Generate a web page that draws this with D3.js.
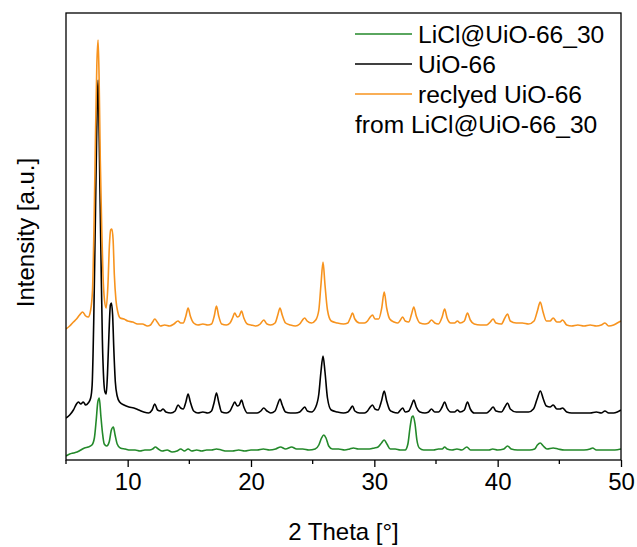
<!DOCTYPE html>
<html>
<head>
<meta charset="utf-8">
<script src="https://cdn.jsdelivr.net/npm/d3@7"></script>
<style>
  html, body { margin: 0; padding: 0; background: #fff; }
  svg { display: block; }
  text { font-family: "Liberation Sans", Arial, sans-serif; fill: #000; }
</style>
</head>
<body>
<svg id="chart" width="637" height="547"></svg>
<script>
// XRD patterns, stacked (offsets already in the a.u. values)
const seriesNames = ["LiCl@UiO-66_30", "UiO-66", "reclyed UiO-66"];
const legendExtra = "from LiCl@UiO-66_30";
const xTicks = [10, 20, 30, 40, 50];
const xMinorTicks = [5, 15, 25, 35, 45];

const licl = [
  [5.0,4],[5.3,6],[5.6,7],[5.9,8],[6.2,10],[6.5,12],[6.8,13],[7.1,15],[7.3,22],[7.45,40],[7.58,58],[7.7,62],
  [7.82,45],[7.95,28],[8.1,16],[8.3,14],[8.5,18],[8.68,30],[8.84,33],[8.98,25],[9.15,16],[9.4,12],[9.8,11],
  [10.2,10],[10.6,10],[11.0,9],[11.4,10],[11.8,10],[12.02,11],[12.25,13],[12.48,11],[12.8,9],[13.2,10],[13.6,8],
  [14.0,9],[14.3,11],[14.6,9],[14.9,11],[15.2,9],[15.6,10],[16.0,9],[16.4,10],[16.8,10],[17.2,11],[17.6,10],
  [18.0,9],[18.5,9],[19.0,10],[19.5,9],[20.0,10],[20.5,10],[21.0,11],[21.5,10],[22.0,11],[22.4,13],[22.8,11],
  [23.3,13],[23.7,11],[24.2,11],[24.7,10],[25.2,11],[25.5,15],[25.72,22],[25.9,25],[26.08,22],[26.3,14],
  [26.6,11],[27.1,11],[27.6,10],[28.0,11],[28.3,12],[28.7,11],[29.2,11],[29.6,11],[30.0,12],[30.3,13],
  [30.58,17],[30.8,20],[31.02,16],[31.3,11],[31.7,11],[32.1,10],[32.5,10],[32.72,16],[32.9,33],[33.05,43],
  [33.15,44],[33.3,36],[33.45,20],[33.65,12],[34.0,10],[34.4,10],[34.8,10],[35.2,11],[35.5,11],[35.7,13],
  [35.9,11],[36.3,10],[36.7,11],[37.1,10],[37.5,13],[37.8,10],[38.3,10],[38.8,10],[39.3,10],[39.6,11],
  [40.0,10],[40.5,11],[40.8,14],[41.1,11],[41.6,10],[42.1,10],[42.6,10],[43.0,11],[43.22,15],[43.45,17],
  [43.7,14],[44.0,11],[44.5,12],[44.9,11],[45.4,10],[46.0,10],[46.5,10],[47.0,10],[47.5,11],[47.7,12],
  [48.0,10],[48.5,10],[49.0,10],[49.5,10],[50.0,11]
];

const uio = [
  [5.0,42],[5.3,45],[5.6,50],[5.85,56],[6.0,58],[6.2,56],[6.4,58],[6.6,55],[6.8,57],[7.0,62],[7.12,75],
  [7.25,140],[7.38,240],[7.48,320],[7.55,365],[7.6,380],[7.66,350],[7.74,280],[7.84,200],[7.95,120],[8.06,80],
  [8.16,68],[8.26,66],[8.36,85],[8.48,125],[8.6,155],[8.68,157],[8.78,145],[8.88,110],[9.0,78],[9.15,64],
  [9.35,58],[9.7,55],[10.1,53],[10.5,52],[10.9,50],[11.3,48],[11.7,47],[11.98,50],[12.2,56],[12.42,50],
  [12.65,49],[12.87,51],[13.1,48],[13.5,47],[13.85,49],[14.08,55],[14.3,52],[14.5,51],[14.72,58],[14.9,66],
  [15.08,58],[15.35,49],[15.7,47],[16.1,48],[16.5,47],[16.8,49],[17.02,58],[17.2,67],[17.38,58],[17.62,48],
  [18.0,47],[18.3,49],[18.5,54],[18.68,58],[18.88,54],[19.05,55],[19.23,60],[19.42,53],[19.7,47],[20.1,47],
  [20.5,47],[20.8,49],[21.03,52],[21.3,49],[21.6,47],[21.95,49],[22.17,56],[22.35,61],[22.53,55],[22.8,48],
  [23.2,47],[23.6,47],[23.95,48],[24.18,51],[24.35,53],[24.57,49],[24.9,48],[25.25,53],[25.5,66],[25.67,88],
  [25.84,104],[26.0,88],[26.2,62],[26.5,50],[27.0,48],[27.5,47],[27.85,48],[28.05,51],[28.23,54],[28.42,49],
  [28.8,47],[29.2,47],[29.45,49],[29.67,53],[29.85,55],[30.05,51],[30.3,50],[30.58,59],[30.8,69],[31.0,59],
  [31.25,50],[31.5,48],[31.9,47],[32.12,50],[32.3,52],[32.5,48],[32.8,49],[33.02,55],[33.2,60],[33.4,53],
  [33.7,48],[34.1,47],[34.4,48],[34.63,51],[34.9,48],[35.2,48],[35.5,53],[35.7,58],[35.9,52],[36.2,48],
  [36.5,48],[36.74,50],[36.95,48],[37.3,50],[37.55,58],[37.78,51],[38.1,47],[38.6,47],[39.1,47],[39.4,50],
  [39.63,53],[39.87,49],[40.3,48],[40.58,53],[40.8,57],[41.02,51],[41.5,48],[42.0,48],[42.5,48],[42.9,51],
  [43.2,61],[43.46,69],[43.7,61],[43.95,54],[44.25,53],[44.5,55],[44.8,51],[45.05,51],[45.26,52],[45.6,48],
  [46.0,47],[46.5,47],[47.0,47],[47.5,47],[48.0,48],[48.4,47],[48.7,49],[49.0,47],[49.4,47],[49.7,48],[50.0,50]
];

const recycled = [
  [5.0,131],[5.3,134],[5.6,138],[5.85,141],[6.1,145],[6.35,148],[6.6,144],[6.8,143],[7.0,150],[7.15,170],
  [7.28,240],[7.4,330],[7.5,395],[7.6,420],[7.68,385],[7.78,300],[7.9,230],[8.0,185],[8.12,160],[8.26,152],
  [8.4,175],[8.52,215],[8.62,230],[8.72,231],[8.82,220],[8.92,185],[9.05,160],[9.2,148],[9.4,142],[9.7,141],
  [10.0,139],[10.4,138],[10.8,136],[11.2,136],[11.6,134],[11.85,135],[12.02,138],[12.2,141],[12.4,138],
  [12.65,134],[13.0,135],[13.4,134],[13.75,136],[14.08,139],[14.3,137],[14.5,137],[14.72,144],[14.9,152],
  [15.08,144],[15.35,137],[15.7,135],[16.1,136],[16.5,135],[16.8,136],[17.02,144],[17.2,154],[17.38,144],
  [17.62,136],[18.0,135],[18.3,137],[18.5,142],[18.68,147],[18.88,143],[19.05,144],[19.23,149],[19.42,142],
  [19.7,136],[20.0,135],[20.4,134],[20.75,136],[21.03,140],[21.3,136],[21.6,135],[21.95,137],[22.17,145],
  [22.35,152],[22.53,145],[22.8,137],[23.2,135],[23.6,134],[23.95,136],[24.18,140],[24.35,142],[24.55,139],
  [24.9,137],[25.25,140],[25.5,150],[25.67,175],[25.84,198],[26.0,175],[26.2,150],[26.5,139],[27.0,137],
  [27.5,136],[27.85,137],[28.05,142],[28.23,147],[28.42,141],[28.8,137],[29.2,137],[29.45,139],[29.67,143],
  [29.85,145],[30.05,141],[30.35,141],[30.6,152],[30.8,168],[31.0,152],[31.25,141],[31.6,138],[31.9,137],
  [32.12,140],[32.3,143],[32.5,139],[32.8,138],[33.02,146],[33.2,153],[33.4,144],[33.7,137],[34.1,136],
  [34.4,137],[34.63,140],[34.9,137],[35.2,136],[35.5,143],[35.7,151],[35.9,142],[36.2,137],[36.5,137],
  [36.74,139],[36.95,137],[37.3,139],[37.55,147],[37.78,140],[38.1,136],[38.6,135],[39.1,135],[39.4,138],
  [39.63,141],[39.87,137],[40.3,136],[40.58,142],[40.8,146],[41.02,139],[41.5,137],[42.0,137],[42.5,136],
  [42.95,139],[43.22,149],[43.45,158],[43.68,148],[43.95,139],[44.25,139],[44.5,142],[44.8,138],[45.05,138],
  [45.26,140],[45.6,135],[46.0,134],[46.5,135],[47.0,134],[47.5,135],[48.0,134],[48.4,135],[48.7,137],
  [49.0,134],[49.4,135],[49.7,137],[50.0,139]
];

const colors = ["#23892a", "#000000", "#f7931e"];
const allSeries = [licl, uio, recycled];

const W = 637, H = 547;
const m = { top: 13, right: 16, bottom: 87, left: 66 };
const svg = d3.select("#chart");

const x = d3.scaleLinear().domain([5, 50]).range([m.left, W - m.right]);
const y = d3.scaleLinear().domain([0, 447]).range([H - m.bottom, m.top]);

const line = d3.line().x(d => x(d[0])).y(d => y(d[1])).curve(d3.curveMonotoneX);

svg.append("defs").append("clipPath").attr("id", "clip")
  .append("rect")
  .attr("x", m.left).attr("y", m.top)
  .attr("width", W - m.left - m.right).attr("height", H - m.top - m.bottom);

const plot = svg.append("g").attr("clip-path", "url(#clip)");
allSeries.forEach((s, i) => {
  plot.append("path")
    .datum(s)
    .attr("d", line)
    .attr("fill", "none")
    .attr("stroke", colors[i])
    .attr("stroke-width", 1.6)
    .attr("stroke-linejoin", "round");
});

// x axis: majors with labels, minors without
const gx = svg.append("g").attr("transform", `translate(0,${H - m.bottom})`);
gx.call(d3.axisBottom(x).tickValues(xTicks).tickSize(7).tickPadding(6).tickFormat(d3.format("d")))
  .call(g => g.select(".domain").remove())
  .call(g => g.selectAll(".tick line").attr("stroke", "#000").attr("stroke-width", 1.3))
  .call(g => g.selectAll(".tick text")
    .attr("font-family", "'Liberation Sans', Arial, sans-serif")
    .attr("font-size", 24).attr("fill", "#000"));
gx.selectAll(".minor").data(xMinorTicks).join("line")
  .attr("class", "minor")
  .attr("x1", d => x(d)).attr("x2", d => x(d))
  .attr("y1", 0).attr("y2", 4)
  .attr("stroke", "#000").attr("stroke-width", 1.3);

// frame
svg.append("rect")
  .attr("x", m.left).attr("y", m.top)
  .attr("width", W - m.left - m.right).attr("height", H - m.top - m.bottom)
  .attr("fill", "none").attr("stroke", "#000").attr("stroke-width", 1.3);

// axis titles
svg.append("text")
  .attr("x", (m.left + W - m.right) / 2).attr("y", 540)
  .attr("text-anchor", "middle").attr("font-size", 24)
  .text("2 Theta [°]");
svg.append("text")
  .attr("transform", `translate(34,${(m.top + H - m.bottom) / 2 - 4}) rotate(-90)`)
  .attr("text-anchor", "middle").attr("font-size", 24)
  .text("Intensity [a.u.]");

// legend
const lg = svg.append("g").attr("transform", "translate(355,43)");
seriesNames.forEach((name, i) => {
  lg.append("line")
    .attr("x1", 0).attr("x2", 57)
    .attr("y1", i * 30 - 9).attr("y2", i * 30 - 9)
    .attr("stroke", colors[i]).attr("stroke-width", 1.6);
  lg.append("text")
    .attr("x", 63).attr("y", i * 30)
    .attr("font-size", 24.6)
    .text(name);
});
lg.append("text")
  .attr("x", 0).attr("y", 90)
  .attr("font-size", 24.6)
  .text(legendExtra);
</script>
</body>
</html>
